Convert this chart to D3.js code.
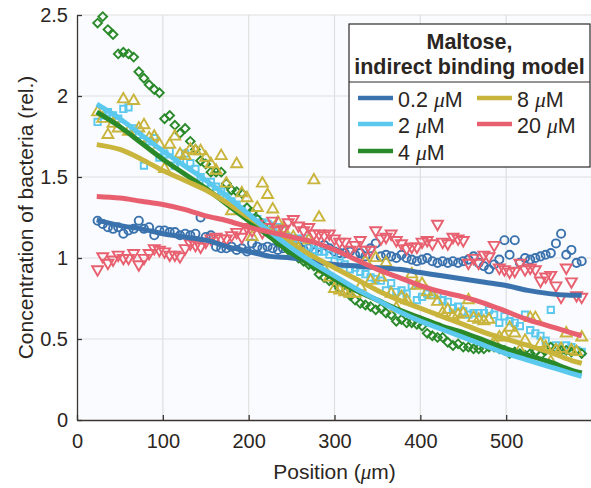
<!DOCTYPE html>
<html>
<head>
<meta charset="utf-8">
<script src="https://cdn.jsdelivr.net/npm/d3@7"></script>
<style>
  body { margin: 0; background: #ffffff; }
  text { font-family: 'Liberation Sans', Arial, Helvetica, sans-serif; fill: #2b2622; }
</style>
</head>
<body>
<script>
// measured positions (um) for the scattered points
const positions = [24, 30, 36, 42, 48, 54, 60, 66, 72, 78, 84, 90, 96, 102, 108, 114, 120, 126, 132, 138,
  144, 150, 156, 162, 168, 174, 180, 186, 192, 198, 204, 210, 216, 222, 228, 234, 240, 246, 252, 258,
  264, 270, 276, 282, 288, 294, 300, 306, 312, 318, 324, 330, 336, 342, 348, 354, 360, 366, 372, 378,
  384, 390, 396, 402, 408, 414, 420, 426, 432, 438, 444, 450, 456, 462, 468, 474, 480, 486, 492, 498,
  504, 510, 516, 522, 528, 534, 540, 546, 552, 558, 564, 570, 576, 582, 588]

// measured concentration for each maltose level
const conc02 = [1.23, 1.21, 1.19, 1.18, 1.19, 1.15, 1.17, 1.18, 1.23, 1.18,
  1.19, 1.14, 1.17, 1.17, 1.16, 1.16, 1.14, 1.15, 1.14, 1.15,
  1.25, 1.13, 1.14, 1.07, 1.06, 1.06, 1.07, 1.05, 1.06, 1.04,
  1.09, 1.07, 1.06, 1.07, 1.06, 1.05, 1.06, 1.08, 1.05, 1.07,
  1.05, 1.06, 1.04, 1.07, 1.08, 1.06, 1.04, 1.03, 1.03, 1.04,
  1.02, 1.03, 1.01, 1.06, 1.09, 1.01, 1.02, 1.01, 1.00, 1.02,
  1.00, 0.99, 0.98, 0.99, 1.00, 0.98, 0.97, 0.98, 0.97, 0.98,
  0.97, 0.98, 0.99, 1.01, 0.97, 0.95, 0.93, 0.96, 0.99, 1.11,
  1.02, 1.11, 0.97, 1.00, 0.99, 1.00, 1.01, 1.02, 1.03, 1.09,
  1.15, 1.02, 1.05, 0.97, 0.98]
const conc2 = [1.84, 1.88, 1.90, 1.88, 1.86, 1.92, 1.93, 1.80, 1.76, 1.57,
  1.72, 1.74, 1.62, 1.64, 1.66, 1.57, 1.60, 1.645, 1.585, 1.55,
  1.50, 1.46, 1.47, 1.44, 1.41, 1.38, 1.35, 1.33, 1.30, 1.27,
  1.25, 1.24, 1.22, 1.21, 1.20, 1.19, 1.17, 1.13, 1.12, 1.12,
  1.12, 1.07, 1.05, 1.04, 1.04, 1.02, 0.98, 1.01, 0.96, 0.93,
  0.94, 0.915, 0.90, 0.88, 0.87, 0.86, 0.80, 0.845, 0.79, 0.80,
  0.78, 0.83, 0.74, 0.76, 0.78, 0.77, 0.77, 0.74, 0.73, 0.69,
  0.70, 0.67, 0.65, 0.66, 0.66, 0.66, 0.68, 0.65, 0.60, 0.64,
  0.61, 0.60, 0.58, 0.65, 0.555, 0.535, 0.52, 0.49, 0.68, 0.46,
  0.43, 0.46, 0.45, 0.43, 0.42]
const conc4 = [2.45, 2.49, 2.41, 2.38, 2.26, 2.27, 2.26, 2.24, 2.15, 2.11,
  2.07, 2.04, 2.02, 1.86, 1.88, 1.82, 1.77, 1.80, 1.72, 1.67,
  1.60, 1.58, 1.53, 1.53, 1.53, 1.46, 1.42, 1.41, 1.40, 1.31,
  1.28, 1.24, 1.20, 1.16, 1.14, 1.10, 1.09, 1.05, 1.03, 1.00,
  0.98, 0.96, 0.95, 0.90, 0.88, 0.86, 0.85, 0.81, 0.79, 0.77,
  0.74, 0.72, 0.71, 0.70, 0.68, 0.69, 0.66, 0.65, 0.61, 0.62,
  0.60, 0.60, 0.59, 0.58, 0.535, 0.52, 0.51, 0.51, 0.48, 0.46,
  0.47, 0.45, 0.45, 0.44, 0.44, 0.44, 0.45, 0.45, 0.44, 0.43,
  0.41, 0.42, 0.41, 0.40, 0.41, 0.42, 0.40, 0.43, 0.45, 0.44,
  0.43, 0.43, 0.42, 0.43, 0.41]
const conc8 = [1.90, 1.86, 1.76, 1.83, 1.80, 1.98, 1.78, 1.97, 1.80, 1.82,
  1.74, 1.75, 1.70, 1.55, 1.70, 1.75, 1.64, 1.63, 1.67, 1.66,
  1.66, 1.62, 1.58, 1.54, 1.63, 1.46, 1.29, 1.58, 1.40, 1.37,
  1.13, 1.31, 1.46, 1.39, 1.30, 1.22, 1.18, 1.10, 1.13, 1.06,
  1.02, 1.11, 1.48, 1.25, 0.93, 0.88, 0.81, 0.80, 0.79, 0.78,
  0.78, 0.82, 0.98, 0.86, 1.00, 0.88, 0.97, 0.78, 0.69, 0.76,
  0.74, 0.90, 0.83, 0.84, 0.79, 0.77, 0.73, 0.66, 0.68, 0.64,
  0.65, 0.66, 0.74, 0.63, 0.62, 0.61, 0.62, 0.48, 0.51, 0.52,
  0.57, 0.535, 0.43, 0.49, 0.63, 0.63, 0.47, 0.45, 0.36, 0.43,
  0.44, 0.535, 0.43, 0.42, 0.51]
const conc20 = [0.93, 1.01, 0.97, 0.99, 1.02, 1.00, 1.00, 1.03, 0.96, 1.00,
  1.03, 1.06, 1.05, 1.04, 1.02, 1.02, 1.01, 1.06, 1.09, 1.08,
  1.07, 1.10, 1.12, 1.13, 1.12, 1.12, 1.14, 1.16, 1.13, 1.19,
  1.17, 1.21, 1.16, 1.19, 1.23, 1.17, 1.18, 1.22, 1.24, 1.20,
  1.17, 1.19, 1.15, 1.15, 1.14, 1.15, 1.12, 1.10, 1.10, 1.05,
  1.08, 1.11, 1.05, 1.05, 1.17, 1.12, 1.13, 1.15, 1.11, 1.09,
  1.06, 1.07, 1.07, 1.10, 1.11, 1.09, 1.21, 1.10, 1.09, 1.13,
  1.12, 1.11, 0.97, 1.00, 0.97, 1.02, 1.01, 1.08, 0.94, 0.93,
  0.915, 0.92, 0.97, 0.93, 0.94, 0.93, 0.86, 0.885, 0.895, 0.83,
  0.76, 0.94, 0.855, 0.77, 0.76]

// model curves (indirect binding model)
const fitPositions = [23, 50, 75, 100, 125, 150, 175, 200, 225, 250, 275, 300,
  325, 350, 375, 400, 425, 450, 475, 500, 525, 550, 575, 588]
const fit02 = [1.235, 1.20, 1.18, 1.15, 1.13, 1.11, 1.07, 1.04, 1.01, 1.00, 0.98, 0.96,
  0.95, 0.94, 0.93, 0.91, 0.89, 0.87, 0.85, 0.83, 0.80, 0.78, 0.77, 0.77]
const fit2 = [1.95, 1.86, 1.76, 1.66, 1.57, 1.48, 1.38, 1.27, 1.16, 1.06, 0.97, 0.89,
  0.81, 0.74, 0.67, 0.61, 0.56, 0.51, 0.46, 0.41, 0.37, 0.33, 0.29, 0.27]
const fit4 = [1.90, 1.81, 1.71, 1.61, 1.52, 1.43, 1.33, 1.23, 1.13, 1.03, 0.95, 0.87,
  0.80, 0.74, 0.68, 0.63, 0.58, 0.54, 0.49, 0.44, 0.40, 0.36, 0.31, 0.29]
const fit8 = [1.70, 1.67, 1.61, 1.54, 1.48, 1.42, 1.34, 1.25, 1.17, 1.09, 1.01, 0.94,
  0.87, 0.80, 0.74, 0.69, 0.64, 0.59, 0.54, 0.50, 0.46, 0.42, 0.37, 0.35]
const fit20 = [1.38, 1.37, 1.35, 1.33, 1.30, 1.26, 1.23, 1.19, 1.16, 1.13, 1.10, 1.05,
  0.99, 0.93, 0.88, 0.83, 0.79, 0.76, 0.72, 0.67, 0.62, 0.58, 0.54, 0.52]

const legendLabels = ['0.2', '2', '4', '8', '20']
const xTicks = [0, 100, 200, 300, 400, 500]
const yTicks = [0, 0.5, 1, 1.5, 2, 2.5]

draw()

function draw() {
  const outerWidth = 591
  const outerHeight = 488
  const margin = { left: 77, top: 15, right: -1, bottom: 68 }
  const innerWidth = outerWidth - margin.left - margin.right
  const innerHeight = outerHeight - margin.top - margin.bottom

  // colors
  const axisColor = '#3a3531'
  const gridColor = '#dfdfdf'
  const plotBg = '#f9fbfe'

  const series = [
    { label: legendLabels[0], values: conc02, fit: fit02, color: '#3a72ad', symbol: d3.symbolCircle, size: 52, rotate: 0 },
    { label: legendLabels[1], values: conc2, fit: fit2, color: '#5bc8ee', symbol: d3.symbolSquare, size: 40, rotate: 0 },
    { label: legendLabels[2], values: conc4, fit: fit4, color: '#2a8a2a', symbol: d3.symbolSquare, size: 38, rotate: 45 },
    { label: legendLabels[3], values: conc8, fit: fit8, color: '#c9b43c', symbol: d3.symbolTriangle, size: 52, rotate: 0 },
    { label: legendLabels[4], values: conc20, fit: fit20, color: '#e8606f', symbol: d3.symbolTriangle, size: 52, rotate: 180 }
  ]

  const svg = d3.select('body')
    .append('svg')
    .attr('width', outerWidth)
    .attr('height', outerHeight)

  const g = svg.append('g')
    .attr('transform', `translate(${margin.left},${margin.top})`)

  const xScale = d3.scaleLinear().domain([0, 600]).range([0, innerWidth])
  const yScale = d3.scaleLinear().domain([0, 2.5]).range([innerHeight, 0])

  // plot background
  g.append('rect')
    .attr('width', innerWidth)
    .attr('height', innerHeight)
    .style('fill', plotBg)

  // grid
  g.selectAll('.vgrid')
    .data(xTicks.filter(d => d > 0))
    .join('line')
    .attr('class', 'vgrid')
    .attr('x1', d => xScale(d))
    .attr('x2', d => xScale(d))
    .attr('y1', 0)
    .attr('y2', innerHeight)
    .style('stroke', gridColor)
    .style('stroke-width', 1.2)

  g.selectAll('.hgrid')
    .data(yTicks.filter(d => d > 0))
    .join('line')
    .attr('class', 'hgrid')
    .attr('x1', 0)
    .attr('x2', innerWidth)
    .attr('y1', d => yScale(d))
    .attr('y2', d => yScale(d))
    .style('stroke', gridColor)
    .style('stroke-width', 1.2)

  // axes
  const xAxisG = g.append('g')
    .attr('transform', `translate(0,${innerHeight})`)
    .call(d3.axisBottom(xScale).tickValues(xTicks).tickSize(-5).tickSizeOuter(0).tickPadding(14))
  const yAxisG = g.append('g')
    .call(d3.axisLeft(yScale).tickValues(yTicks).tickSize(-5).tickSizeOuter(0).tickPadding(9)
      .tickFormat(d3.format('~g')))

  ;[xAxisG, yAxisG].forEach(a => {
    a.selectAll('path').style('stroke', axisColor).style('stroke-width', 1.3)
    a.selectAll('line').style('stroke', axisColor).style('stroke-width', 1.3)
    a.selectAll('text')
      .style('font-size', '20px')
      .style('font-family', "'Liberation Sans', Arial, Helvetica, sans-serif")
      .style('fill', '#2b2622')
  })

  // axis titles
  const xLabel = g.append('text')
    .attr('x', innerWidth / 2)
    .attr('y', innerHeight + 59)
    .style('text-anchor', 'middle')
    .style('font-size', '21px')
  xLabel.append('tspan').text('Position (')
  xLabel.append('tspan').style('font-family', "'Liberation Serif', 'DejaVu Serif', serif").style('font-style', 'italic').text('\u03bc')
  xLabel.append('tspan').text('m)')

  svg.append('text')
    .attr('transform', `translate(33,${margin.top + innerHeight / 2}) rotate(-90)`)
    .style('text-anchor', 'middle')
    .style('font-size', '21px')
    .text('Concentration of bacteria (rel.)')

  // scattered measurements
  series.forEach(s => {
    const pts = d3.zip(positions, s.values)
    const sym = d3.symbol().type(s.symbol).size(s.size)
    g.append('g')
      .selectAll('path')
      .data(pts)
      .join('path')
      .attr('d', sym)
      .attr('transform', d => `translate(${xScale(d[0])},${yScale(d[1])}) rotate(${s.rotate})`)
      .style('fill', 'none')
      .style('stroke', s.color)
      .style('stroke-width', 1.9)
  })

  // model lines
  const line = d3.line()
    .x(d => xScale(d[0]))
    .y(d => yScale(d[1]))
    .curve(d3.curveMonotoneX)

  const lineOrder = [0, 2, 3, 1, 4]
  lineOrder.forEach(i => {
    const s = series[i]
    g.append('path')
      .datum(d3.zip(fitPositions, s.fit))
      .attr('d', line)
      .style('fill', 'none')
      .style('stroke', s.color)
      .style('stroke-width', 5)
      .style('stroke-linejoin', 'round')
  })

  // legend
  const legend = svg.append('g').attr('transform', 'translate(349,24)')
  legend.append('rect')
    .attr('width', 241)
    .attr('height', 143)
    .style('fill', '#ffffff')
    .style('stroke', '#2e2a27')
    .style('stroke-width', 1.2)
  legend.append('line')
    .attr('x1', 0).attr('x2', 241)
    .attr('y1', 58).attr('y2', 58)
    .style('stroke', '#2e2a27')
    .style('stroke-width', 1.2)

  const titleLines = ['Maltose,', 'indirect binding model']
  legend.selectAll('.title')
    .data(titleLines)
    .join('text')
    .attr('class', 'title')
    .attr('x', 120.5)
    .attr('y', (d, i) => 25 + i * 25)
    .style('text-anchor', 'middle')
    .style('font-weight', 'bold')
    .style('font-size', '21.5px')
    .text(d => d)

  const cols = [9, 128]
  const rows = [74, 100, 127]
  const slots = [[0, 0], [0, 1], [0, 2], [1, 0], [1, 1]]

  series.forEach((s, i) => {
    const [c, r] = slots[i]
    const item = legend.append('g')
      .attr('transform', `translate(${cols[c]},${rows[r]})`)
    item.append('line')
      .attr('x1', 0).attr('x2', 35)
      .attr('y1', 0).attr('y2', 0)
      .style('stroke', s.color)
      .style('stroke-width', 4.5)
    const t = item.append('text')
      .attr('x', 40)
      .attr('y', 8.5)
      .style('font-size', '21.5px')
    t.append('tspan').text(`${s.label} `)
    t.append('tspan').style('font-family', "'Liberation Serif', 'DejaVu Serif', serif").style('font-style', 'italic').text('\u03bc')
    t.append('tspan').text('M')
  })
}
</script>
</body>
</html>
